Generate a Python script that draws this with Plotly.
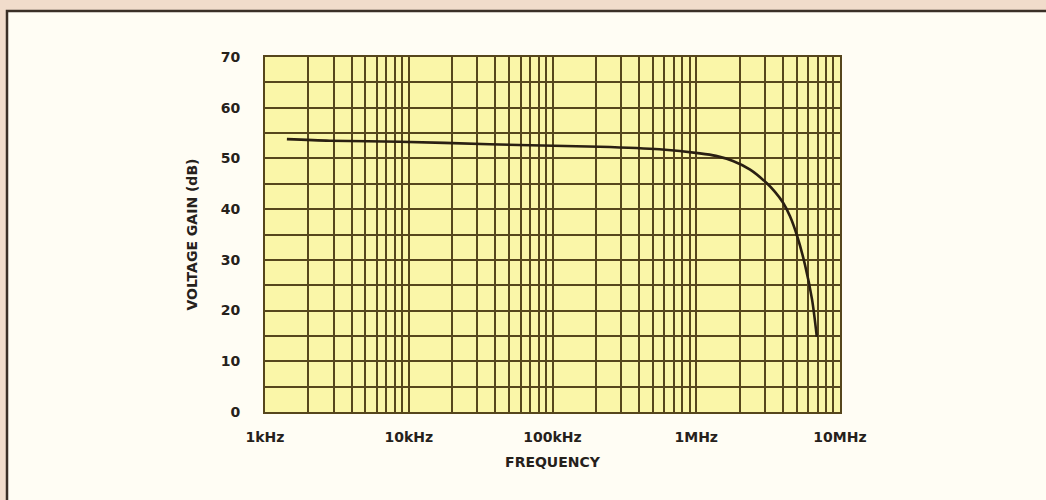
import plotly.graph_objects as go

# Data
freq_hz = [1420, 2830, 8660, 36500, 102000, 212000, 553000, 1060000, 1370000, 1800000,
           2370000, 3100000, 3530000, 4010000, 4490000, 5020000, 5710000, 6390000, 6900000]
gain_db = [53.8, 53.5, 53.3, 52.8, 52.5, 52.3, 51.8, 51.0, 50.5, 49.5,
           47.8, 45.1, 43.4, 41.3, 38.6, 34.8, 29.0, 22.2, 14.8]

x_tick_vals = [1e3, 1e4, 1e5, 1e6, 1e7]
x_tick_text = ["1kHz", "10kHz", "100kHz", "1MHz", "10MHz"]
y_tick_vals = [0, 10, 20, 30, 40, 50, 60, 70]

# grid positions (log-decade multiples, 5 dB steps)
x_grid = [m * d for d in [1e3, 1e4, 1e5, 1e6] for m in range(1, 10)] + [1e7]
x_grid_text = [x_tick_text[x_tick_vals.index(v)] if v in x_tick_vals else "" for v in x_grid]
y_grid = list(range(0, 75, 5))
y_grid_text = [str(v) if v in y_tick_vals else "" for v in y_grid]

grid_col = "#56461c"
font_fam = "DejaVu Sans"
txt_col = "#26211b"
pink = "#f1dccb"
ivory = "#fffdf4"
fnt = dict(family=font_fam, size=14, color=txt_col, weight="bold")

fig = go.Figure()
fig.add_trace(go.Scatter(
    x=freq_hz, y=gain_db, mode="lines",
    line=dict(color="#2a1f12", width=2.6, shape="spline", smoothing=0.8),
    hoverinfo="skip", showlegend=False,
))

L, R, T, B = 265, 206, 57, 88
PW, PH = 1046 - L - R, 500 - T - B


def px_x(p):
    return (p - L) / PW


def px_y(p):
    return (500 - B - p) / PH


fig.update_layout(
    width=1046, height=500,
    margin=dict(l=L, r=R, t=T, b=B),
    paper_bgcolor=ivory,
    plot_bgcolor="#faf6a8",
    font=fnt,
    shapes=[
        dict(type="rect", xref="paper", yref="paper", layer="above",
             x0=px_x(-10), x1=px_x(1060), y0=px_y(11), y1=px_y(-10),
             line=dict(width=0), fillcolor=pink),
        dict(type="rect", xref="paper", yref="paper", layer="above",
             x0=px_x(-10), x1=px_x(7), y0=px_y(510), y1=px_y(-10),
             line=dict(width=0), fillcolor=pink),
        dict(type="rect", xref="paper", yref="paper", layer="above",
             x0=px_x(7), x1=px_x(1060), y0=px_y(510), y1=px_y(11),
             line=dict(color="#3a2f26", width=2.5)),
    ],
)

fig.update_xaxes(
    type="log", range=[3, 7],
    tickmode="array", tickvals=x_grid, ticktext=x_grid_text,
    showgrid=True, gridcolor=grid_col, gridwidth=1.6,
    ticks="", ticklen=0, ticklabelstandoff=11,
    showline=True, linecolor=grid_col, linewidth=2, mirror=True,
    zeroline=False,
    tickfont=fnt,
    title=dict(text="FREQUENCY", font=fnt, standoff=13),
)
fig.update_yaxes(
    range=[0, 70],
    tickmode="array", tickvals=y_grid, ticktext=y_grid_text,
    showgrid=True, gridcolor=grid_col, gridwidth=1.6,
    ticks="", ticklen=0, ticklabelstandoff=20,
    showline=True, linecolor=grid_col, linewidth=2, mirror=True,
    zeroline=False,
    tickfont=fnt,
    title=dict(text="VOLTAGE GAIN (dB)", font=fnt, standoff=20),
)

fig.write_html("out.html", config={"displayModeBar": False})

# remove the default page margin so the figure sits at the window origin
with open("out.html", encoding="utf-8") as fh:
    html = fh.read()
html = html.replace("<head>", "<head><style>html,body{margin:0;padding:0;background:%s;overflow:hidden}</style>" % pink, 1)
with open("out.html", "w", encoding="utf-8") as fh:
    fh.write(html)
